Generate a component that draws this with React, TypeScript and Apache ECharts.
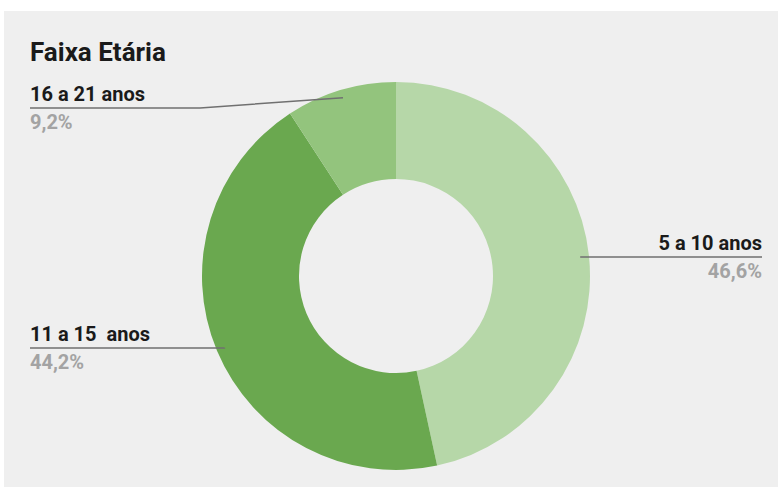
import React, { useEffect, useRef } from "react";
import * as echarts from "echarts";

const categories = ["5 a 10 anos", "11 a 15  anos", "16 a 21 anos"];
const percentages = [46.6, 44.2, 9.2];
const colors = ["#b6d7a8", "#6aa84f", "#93c47d"];
const titleText = "Faixa Etária";

// label layout (chart coords)
const CX = 392;
const CY = 265;
const labelLineY = [246, 337, 97];

export default function App() {
  const ref = useRef<HTMLDivElement>(null);
  useEffect(() => {
    if (!ref.current) return;
    const chart = echarts.init(ref.current, null, { renderer: "svg" });
    const W = 774;
    const total = percentages.reduce((a, b) => a + b, 0);
    const midAngles: number[] = [];
    let cum = 0;
    percentages.forEach((v) => {
      midAngles.push(((cum + v / 2) / total) * Math.PI * 2);
      cum += v;
    });
    const base = {
      type: "pie",
      center: [CX, CY],
      radius: [97, 194],
      startAngle: 90,
      clockwise: true,
      avoidLabelOverlap: false,
      emphasis: { disabled: true },
    };
    chart.setOption({
      animation: false,
      backgroundColor: "#efefef",
      title: {
        text: titleText,
        left: 21,
        top: 21,
        textStyle: {
          fontFamily: "Roboto",
          fontSize: 26,
          fontWeight: "bold",
          color: "#1a1a1a",
          lineHeight: 30,
        },
      },
      series: [
        {
          ...base,
          z: 2,
          data: categories.map((name, i) => ({
            name,
            value: percentages[i],
            itemStyle: { color: colors[i] },
          })),
          label: { show: false },
          labelLine: { show: false },
        },
        {
          ...base,
          z: 5,
          silent: true,
          data: categories.map((name, i) => ({
            name,
            value: percentages[i],
            itemStyle: { color: "rgba(0,0,0,0)" },
          })),
          label: {
            show: true,
            position: "outside",
            fontFamily: "Roboto",
            formatter: (p: any) =>
              `{name|${p.name}}\n{pct|${p.value.toFixed(1).replace(".", ",")}%}`,
            rich: {
              name: {
                fontFamily: "Roboto",
                fontSize: 20,
                fontWeight: "bold",
                color: "#1a1a1a",
                lineHeight: 28,
              },
              pct: {
                fontFamily: "Roboto",
                fontSize: 20,
                fontWeight: "bold",
                color: "#a3a3a3",
                lineHeight: 28,
              },
            },
          },
          labelLine: {
            show: true,
            length: 10,
            length2: 10,
            lineStyle: { color: "#707070", width: 1.5 },
          },
          labelLayout: (params: any) => {
            const i = params.dataIndex;
            const a = midAngles[i];
            const start = [CX + Math.sin(a) * 186, CY - Math.cos(a) * 186];
            const isLeft = start[0] < CX;
            const y = labelLineY[i];
            const endX = isLeft ? 26 : W - 16;
            const bend = i === 2 ? [196, y] : [start[0], y];
            return {
              x: endX,
              y,
              align: isLeft ? "left" : "right",
              verticalAlign: "middle",
              labelLinePoints: [start, bend, [endX, y]],
            };
          },
        },
      ],
    });
    return () => chart.dispose();
  }, []);
  return (
    <div
      style={{
        position: "fixed",
        left: 0,
        top: 0,
        width: 778,
        height: 487,
        background: "#ffffff",
      }}
    >
      <div
        ref={ref}
        style={{ position: "absolute", left: 4, top: 11, width: 774, height: 476 }}
      />
    </div>
  );
}
